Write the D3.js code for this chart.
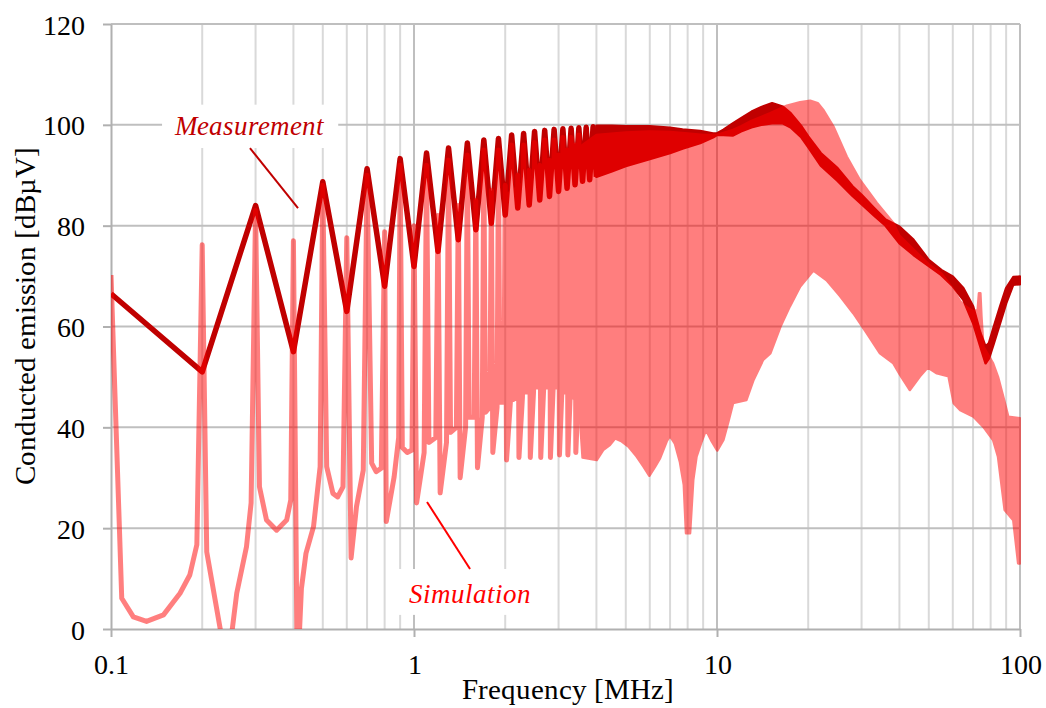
<!DOCTYPE html>
<html>
<head>
<meta charset="utf-8">
<script src="https://cdn.jsdelivr.net/npm/d3@7/dist/d3.min.js"></script>
<style>
  @font-face {
    font-family: "ChartSerif";
    src: local("Liberation Serif"), local("LiberationSerif"), local("LiberationSerif-Regular"),
         local("Tinos"), local("Times New Roman"), local("DejaVu Serif"), local("DejaVuSerif");
    font-style: normal;
  }
  @font-face {
    font-family: "ChartSerif";
    src: local("Liberation Serif Italic"), local("LiberationSerif-Italic"),
         local("Tinos Italic"), local("DejaVu Serif Italic"), local("DejaVuSerif-Italic");
    font-style: italic;
  }
  body { margin: 0; background: #fff; }
  svg text { font-family: "ChartSerif", "Liberation Serif", "DejaVu Serif", serif; }
</style>
</head>
<body>
<div id="chart-area"></div>
<script>
// ---- data (frequency in MHz, level in dBµV) ----
const xTickValues = [0.1, 1, 10, 100];
const xTickLabels = ["0.1", "1", "10", "100"];
const yTickValues = [0, 20, 40, 60, 80, 100, 120];

// measurement: one point per 0.1 MHz harmonic up to 4 MHz
const measFreq = [0.1, 0.2, 0.3, 0.4, 0.5, 0.6, 0.7, 0.8, 0.9, 1.0,
  1.1, 1.2, 1.3, 1.4, 1.5, 1.6, 1.7, 1.8, 1.9, 2.0,
  2.1, 2.2, 2.3, 2.4, 2.5, 2.6, 2.7, 2.8, 2.9, 3.0,
  3.1, 3.2, 3.3, 3.4, 3.5, 3.6, 3.7, 3.8, 3.9, 4.0];
const measLevel = [66.5, 51, 84, 55, 88.7, 63, 91.3, 68, 93.3, 71.9,
  94.4, 74.9, 95.4, 77.2, 96.4, 79.2, 97, 80.5, 97.3, 82.1,
  98, 83.5, 98.3, 84.1, 98.7, 85.1, 98.9, 85.8, 99.1, 86.8,
  99.2, 87.4, 99.3, 88.1, 99.4, 88.8, 99.5, 89.1, 99.6, 89.7];

// measurement above 4 MHz: harmonics too dense, read as upper / lower envelope
const measBandFreq = [4, 4.5, 5, 6, 7, 7.7, 8.8, 9.7, 10, 10.5, 11.3, 12, 13, 14, 15.2, 16.5, 17.5, 19, 20, 22,
  25, 28, 30, 33, 36, 40, 44.5, 50, 55, 60, 65, 70, 74, 77, 79, 82, 86, 90, 95, 100];
const measBandHigh = [99.8, 99.8, 99.7, 99.7, 99.4, 99.1, 98.8, 98.3, 98.3, 99, 100.3, 101.3, 102.6, 103.5, 104.3, 103.6, 102.3, 99.7, 97.7, 94.4,
  91.4, 87.8, 86.1, 83.5, 81.2, 79.8, 77.2, 73.2, 71.2, 69.9, 67.6, 64, 58.7, 56, 56.7, 60, 64, 67.6, 69.8, 69.9];
const measBandLow = [89.7, 90.8, 91.8, 93.2, 94.4, 95.3, 96.4, 97.5, 98, 98, 97.9, 98.7, 99.5, 100, 100.3, 100.3, 99.5, 97.5, 95.6, 91.9,
  88.9, 85.9, 84.3, 82, 80, 76.5, 74.2, 72, 70.2, 68, 65.3, 60.7, 56, 52.7, 53.7, 56.7, 60.7, 64.6, 68.3, 68.4];

// simulation below 1 MHz: traced point by point
const simLowFreq = [0.1, 0.1085, 0.1185, 0.131, 0.149, 0.169, 0.182, 0.192, 0.2, 0.207,
  0.242, 0.26, 0.28, 0.29, 0.3, 0.309, 0.326, 0.352, 0.38, 0.392,
  0.4, 0.412, 0.425, 0.44, 0.466, 0.49, 0.5, 0.515, 0.54, 0.56,
  0.583, 0.6, 0.62, 0.646, 0.68, 0.7, 0.725, 0.75, 0.78, 0.8,
  0.81, 0.86, 0.89, 0.9, 0.915, 0.95, 0.985];
const simLowLevel = [70.2, 6.1, 2.4, 1.5, 2.8, 7.1, 10.7, 16.7, 76.2, 15.3,
  -8, 7.1, 16.3, 25, 83, 28.2, 21.6, 19.6, 21.6, 25.6,
  77, -10, 8, 15, 20.3, 32.2, 88, 32.2, 26.9, 26.2,
  28.2, 77.6, 14.1, 24.3, 31.5, 90, 32.9, 31.2, 31.9, 78.8,
  21.3, 30.2, 38, 92, 36, 35, 35.5];

// simulation 1 - 3.6 MHz: spike at each harmonic, dip just after it, level just before the next one
const simHarmFreq = [1.0, 1.1, 1.2, 1.3, 1.4, 1.5, 1.6, 1.7, 1.8, 1.9, 2.0, 2.1, 2.2, 2.3,
  2.4, 2.5, 2.6, 2.7, 2.8, 2.9, 3.0, 3.1, 3.2, 3.3, 3.4, 3.5, 3.6];
const simHarmPeak = [80, 92, 82, 93, 84, 94, 85, 95, 87, 95, 88, 96, 90, 96,
  91, 96.5, 92, 97, 93, 97, 94, 97.5, 95, 97.5, 96, 98, 96];
const simHarmDip = [25, 37, 27, 39, 30, 42, 32, 43, 35, 45, 33.5, 45.5, 34, 47,
  34, 48, 34, 48, 34, 48, 34.5, 47, 34.5, 46, 35, 45];
const simHarmRise = [35, 38, 37, 40, 40, 42, 42, 44, 44, 45, 45, 46, 46, 47,
  47, 48, 48, 48, 48, 48, 48, 47, 47, 46, 46, 45];

// simulation above 2 MHz: filled band, upper and lower envelope
const simTopFreq = [2.0, 2.5, 3, 3.6, 4, 5, 6, 7, 8, 9, 10, 11.3, 12, 13, 15, 17, 18.8, 20.3, 21.5, 22.4, 24.2, 26.8, 29.6,
  33.7, 38.2, 40, 45, 50, 55, 60, 63.5, 66, 70, 72.5, 73.2, 74, 74.6, 75.7, 81.5, 84.6, 88, 91.5, 100];
const simTopLevel = [86, 90, 93, 96, 98, 98.5, 98.7, 98.6, 98.3, 98, 98, 99, 99.7, 100.8, 102.3, 103.8, 104.5, 104.8, 104.3, 103, 99.7, 93.7, 89.1,
  84.5, 80.5, 78, 75, 72.3, 70.5, 67.5, 65, 64, 63, 63.3, 66.6, 66.6, 62, 56, 52.7, 50, 46.1, 42.1, 41.8];
const simBotFreq = [2.0, 2.5, 3.0, 3.5, 3.6, 4.01, 4.21, 4.43, 4.61, 4.85, 5.1, 5.43, 5.72, 5.98, 6.25, 6.49, 6.82, 6.99, 7.26, 7.54, 7.77, 7.9, 8.15, 8.35,
  8.56, 8.9, 9.2, 9.61, 10.02, 10.5, 10.9, 11.3, 12.5, 13.2, 14.2, 15, 16.2, 17.4, 18.8, 20.8, 23, 25.5, 28.2, 31.2,
  34.5, 38.2, 40.2, 43.3, 46.7, 49.6, 53.2, 58.1, 60.4, 63.5, 70.2, 75.7, 81.5, 84.6, 89, 95, 98.6, 100];
const simBotLevel = [46, 48, 48, 45, 34, 33.5, 35.5, 36.5, 37.8, 37.2, 36.2, 34.2, 32.2, 30.4, 32.2, 33.9, 37.2, 38.3, 36.8, 33.2, 28.6, 19, 19, 29.6,
  34.2, 37.2, 39.5, 37.2, 35.4, 37.5, 41.1, 44.8, 45.4, 49.4, 53.4, 54.7, 60, 64, 67.9, 71.1, 69.2, 66, 62.6, 58.7,
  54.7, 52.7, 50.4, 47.4, 50.1, 51.9, 50.7, 50.1, 44.8, 43.4, 42.1, 40.1, 37.5, 34.2, 23.6, 21.6, 13, 13];

// ---- layout ----
const canvasWidth = 1046;
const canvasHeight = 708;
const margin = {left: 111, top: 24, right: 26, bottom: 79};
const plotRight = canvasWidth - margin.right;
const plotBottom = canvasHeight - margin.bottom;

const measColor = "#c00000";
const simColor = "#ff0000";
const gridColor = "#bfbfbf";
const minorColor = "#d9d9d9";
const axisColor = "#b0b0b0";

const svg = d3.select("#chart-area").append("svg")
  .attr("width", canvasWidth).attr("height", canvasHeight);

const x = d3.scaleLog().domain([0.1, 100]).range([margin.left, plotRight]);
const y = d3.scaleLinear().domain([0, 120]).range([plotBottom, margin.top]);

svg.append("clipPath").attr("id", "plot-clip")
  .append("rect")
  .attr("x", margin.left).attr("y", margin.top)
  .attr("width", plotRight - margin.left + 1).attr("height", plotBottom - margin.top);

// ---- grid ----
const isDecade = d => Math.abs(Math.log10(d) - Math.round(Math.log10(d))) < 1e-6;
const grid = svg.append("g");

grid.selectAll(".minor").data(x.ticks().filter(d => !isDecade(d)))
  .join("line")
  .attr("x1", d => x(d)).attr("x2", d => x(d))
  .attr("y1", margin.top).attr("y2", plotBottom)
  .attr("stroke", minorColor).attr("stroke-width", 2);

grid.selectAll(".major").data(xTickValues.slice(1))
  .join("line")
  .attr("x1", d => x(d)).attr("x2", d => x(d))
  .attr("y1", margin.top).attr("y2", plotBottom)
  .attr("stroke", gridColor).attr("stroke-width", 2);

grid.selectAll(".hgrid").data(yTickValues.slice(1))
  .join("line")
  .attr("x1", margin.left).attr("x2", plotRight)
  .attr("y1", d => y(d)).attr("y2", d => y(d))
  .attr("stroke", gridColor).attr("stroke-width", 2);

// ---- white boxes behind the annotation labels ----
const boxes = [
  {f0: 0.1474, f1: 0.5622, v0: 95.4, v1: 104},
  {f0: 0.821, f1: 2.706, v0: 2.8, v1: 11.9}
];
svg.selectAll(".label-box").data(boxes)
  .join("rect")
  .attr("x", d => x(d.f0)).attr("width", d => x(d.f1) - x(d.f0))
  .attr("y", d => y(d.v1)).attr("height", d => y(d.v0) - y(d.v1))
  .attr("fill", "#fff");

// ---- axes ----
const xAxis = d3.axisBottom(x).tickValues(xTickValues)
  .tickFormat((d, i) => xTickLabels[i]).tickSize(8).tickSizeOuter(0);
const yAxis = d3.axisLeft(y).tickValues(yTickValues).tickSize(8).tickSizeOuter(0);

const xAxisGroup = svg.append("g").attr("transform", `translate(0, ${plotBottom})`).call(xAxis);
const yAxisGroup = svg.append("g").attr("transform", `translate(${margin.left}, 0)`).call(yAxis);

[xAxisGroup, yAxisGroup].forEach(g => {
  g.attr("font-family", null).attr("font-size", 28);
  g.select(".domain").attr("stroke", axisColor).attr("stroke-width", 2);
  g.selectAll(".tick line").attr("stroke", axisColor).attr("stroke-width", 2);
  g.selectAll("text").attr("fill", "#000");
});
xAxisGroup.selectAll("text").attr("y", 45).attr("dy", 0);
yAxisGroup.selectAll("text").attr("x", -26).attr("dy", "0.36em");

svg.append("text")
  .attr("x", (margin.left + plotRight) / 2 + 2).attr("y", 699)
  .attr("text-anchor", "middle").attr("font-size", 29)
  .text("Frequency [MHz]");

svg.append("text")
  .attr("transform", `translate(35, ${(margin.top + plotBottom) / 2 - 11}) rotate(-90)`)
  .attr("text-anchor", "middle").attr("font-size", 29)
  .text("Conducted emission [dBµV]");

// ---- series ----
const plot = svg.append("g").attr("clip-path", "url(#plot-clip)");
const line = d3.line().x(d => x(d[0])).y(d => y(d[1]));

// measurement (opaque, below the simulation)
const measBand = measBandFreq.map((f, i) => ({f, hi: measBandHigh[i], lo: measBandLow[i]}));
plot.append("path")
  .datum(measBand)
  .attr("d", d3.area().x(d => x(d.f)).y0(d => y(d.lo)).y1(d => y(d.hi)))
  .attr("fill", measColor).attr("stroke", measColor)
  .attr("stroke-width", 2.5).attr("stroke-linejoin", "round");

plot.append("path")
  .datum(measFreq.map((f, i) => [f, measLevel[i]]))
  .attr("d", line)
  .attr("fill", "none").attr("stroke", measColor)
  .attr("stroke-width", 5.5).attr("stroke-linejoin", "round");

// simulation: drawn at half opacity over the measurement
const simGroup = plot.append("g").attr("opacity", 0.5);

const simPoints = simLowFreq.map((f, i) => [f, simLowLevel[i]]);
simHarmFreq.forEach((f, i) => {
  simPoints.push([f, simHarmPeak[i]]);
  if (i < simHarmDip.length) {
    simPoints.push([f + 0.02, simHarmDip[i]]);
    simPoints.push([f + 0.08, simHarmRise[i]]);
  }
});

const simOutline = simTopFreq.map((f, i) => [f, simTopLevel[i]])
  .concat(simBotFreq.map((f, i) => [f, simBotLevel[i]]).reverse());

simGroup.append("path")
  .datum(simOutline)
  .attr("d", d => line(d) + "Z")
  .attr("fill", simColor).attr("stroke", simColor)
  .attr("stroke-width", 2.5).attr("stroke-linejoin", "round");

simGroup.append("path")
  .datum(simPoints)
  .attr("d", line)
  .attr("fill", "none").attr("stroke", simColor)
  .attr("stroke-width", 5).attr("stroke-linejoin", "round");

// ---- annotations ----
const notes = [
  {text: "Measurement", color: measColor, f: 0.2854, v: 98.0, from: [0.2875, 95.4], to: [0.4142, 83.5]},
  {text: "Simulation", color: simColor, f: 1.525, v: 5.16, from: [1.104, 25.2], to: [1.531, 11.9]}
];
svg.selectAll(".leader").data(notes)
  .join("line")
  .attr("x1", d => x(d.from[0])).attr("y1", d => y(d.from[1]))
  .attr("x2", d => x(d.to[0])).attr("y2", d => y(d.to[1]))
  .attr("stroke", d => d.color).attr("stroke-width", 2);

svg.selectAll(".note").data(notes)
  .join("text")
  .attr("x", d => x(d.f)).attr("y", d => y(d.v))
  .attr("text-anchor", "middle")
  .attr("font-size", 27).attr("font-style", "italic")
  .attr("fill", d => d.color)
  .text(d => d.text);
</script>
</body>
</html>
